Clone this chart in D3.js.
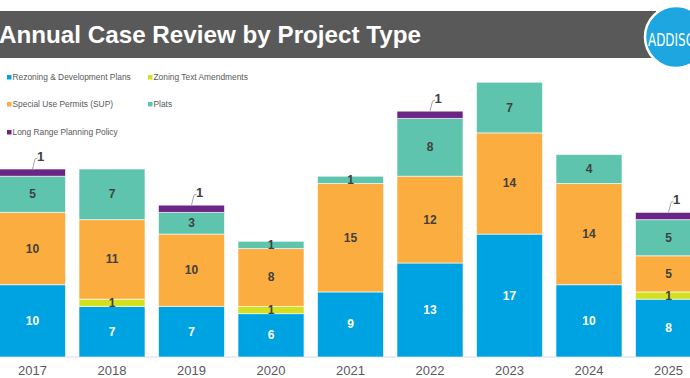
<!DOCTYPE html>
<html>
<head>
<meta charset="utf-8">
<script src="https://cdn.jsdelivr.net/npm/d3@7"></script>
<style>
html,body{margin:0;padding:0;background:#fff;}
svg{display:block;font-family:"Liberation Sans",Arial,sans-serif;}
</style>
</head>
<body>
<svg id="chart" width="690" height="378"></svg>
<script>
const years = ["2017","2018","2019","2020","2021","2022","2023","2024","2025"];
const seriesNames = ["Rezoning & Development Plans","Zoning Text Amendments","Special Use Permits (SUP)","Plats","Long Range Planning Policy"];
const rezoning   = [10, 7, 7, 6, 9, 13, 17, 10, 8];
const zoningText = [0, 1, 0, 1, 0, 0, 0, 0, 1];
const sup        = [10, 11, 10, 8, 15, 12, 14, 14, 5];
const plats      = [5, 7, 3, 1, 1, 8, 7, 4, 5];
const lrpp       = [1, 0, 1, 0, 0, 1, 0, 0, 1];
const colors = ["#00a3e2","#d4e01f","#fbad3f","#5ec4ae","#6b2584"];
const titleText = "Annual Case Review by Project Type";

const seriesValues = [rezoning, zoningText, sup, plats, lrpp];
const table = years.map((y,i)=>{
  const o = {year:y};
  seriesNames.forEach((k,j)=>o[k]=seriesValues[j][i]);
  return o;
});

const svg = d3.select("#chart");

// Title banner
svg.append("rect").attr("x",0).attr("y",11).attr("width",656).attr("height",47).attr("fill","#595959");
svg.append("text").attr("x",-1).attr("y",42.5)
  .attr("fill","#fff").attr("font-weight","bold").attr("font-size",24.5)
  .attr("textLength",422).attr("lengthAdjust","spacingAndGlyphs")
  .text(titleText);

// Logo
svg.append("circle").attr("cx",676).attr("cy",37).attr("r",31)
  .attr("fill","#1ea6e0").attr("stroke","#fff").attr("stroke-width",2.5);
svg.append("text").attr("x",648).attr("y",45.5)
  .attr("fill","#fff").attr("font-size",18).attr("font-family","'Liberation Sans Narrow','DejaVu Sans Condensed',sans-serif")
  .attr("textLength",56).attr("lengthAdjust","spacingAndGlyphs")
  .text("ADDISON");

// Scales
const x = d3.scaleBand().domain(years).range([-7.25,708.25]).paddingInner(0.17).paddingOuter(0.085);
const y = d3.scaleLinear().domain([0,40]).range([357,67.8]);

const stack = d3.stack().keys(seriesNames);
const stacked = stack(table);

// Axis line
svg.append("line").attr("x1",0).attr("x2",690).attr("y1",357).attr("y2",357)
  .attr("stroke","#d9d9d9").attr("stroke-width",1);

// Bars
const layers = svg.append("g").selectAll("g").data(stacked).join("g")
  .attr("fill",(d,i)=>colors[i]);
layers.selectAll("rect").data(d=>d.filter(p=>p[1]-p[0]>0)).join("rect")
  .attr("x",d=>x(d.data.year))
  .attr("y",d=>y(d[1]))
  .attr("width",x.bandwidth())
  .attr("height",d=>y(d[0])-y(d[1]))
  .attr("stroke","#ffffff").attr("stroke-opacity",0.6).attr("stroke-width",1);

// Labels
stacked.forEach((layer,i)=>{
  layer.forEach(p=>{
    const v = p[1]-p[0];
    if(v<=0) return;
    const cx = x(p.data.year)+x.bandwidth()/2;
    if(i===4){
      const top = y(p[1]);
      svg.append("path")
        .attr("d",`M${cx},${top} L${cx+2.5},${top-10} L${cx+5},${top-11}`)
        .attr("fill","none").attr("stroke","#a6a6a6").attr("stroke-width",1);
      svg.append("text").attr("x",cx+8).attr("y",top-13)
        .attr("text-anchor","middle").attr("dominant-baseline","central")
        .attr("font-weight","bold").attr("font-size",13).attr("fill","#404040")
        .text(v);
    } else {
      svg.append("text").attr("x",cx).attr("y",(y(p[0])+y(p[1]))/2)
        .attr("text-anchor","middle").attr("dominant-baseline","central")
        .attr("font-weight","bold").attr("font-size",12)
        .attr("fill", i===0 ? "#ffffff" : "#404040")
        .text(v);
    }
  });
});

// X axis labels
const xAxis = d3.axisBottom(x).tickSize(0).tickPadding(9);
const ax = svg.append("g").attr("transform","translate(0,357)").call(xAxis);
ax.select(".domain").remove();
ax.selectAll("text").attr("font-size",13).attr("fill","#595959")
  .attr("font-family","'Liberation Sans',Arial,sans-serif");

// Legend
const legendPos = [[7,77],[148,77],[7,104],[148,104],[7,132]];
const lg = svg.append("g");
seriesNames.forEach((name,i)=>{
  const [lx,ly] = legendPos[i];
  lg.append("rect").attr("x",lx).attr("y",ly-2).attr("width",4.5).attr("height",4.5).attr("fill",colors[i]);
  lg.append("text").attr("x",lx+5.5).attr("y",ly).attr("dominant-baseline","central")
    .attr("font-size",8.4).attr("fill","#595959").text(name);
});
</script>
</body>
</html>
